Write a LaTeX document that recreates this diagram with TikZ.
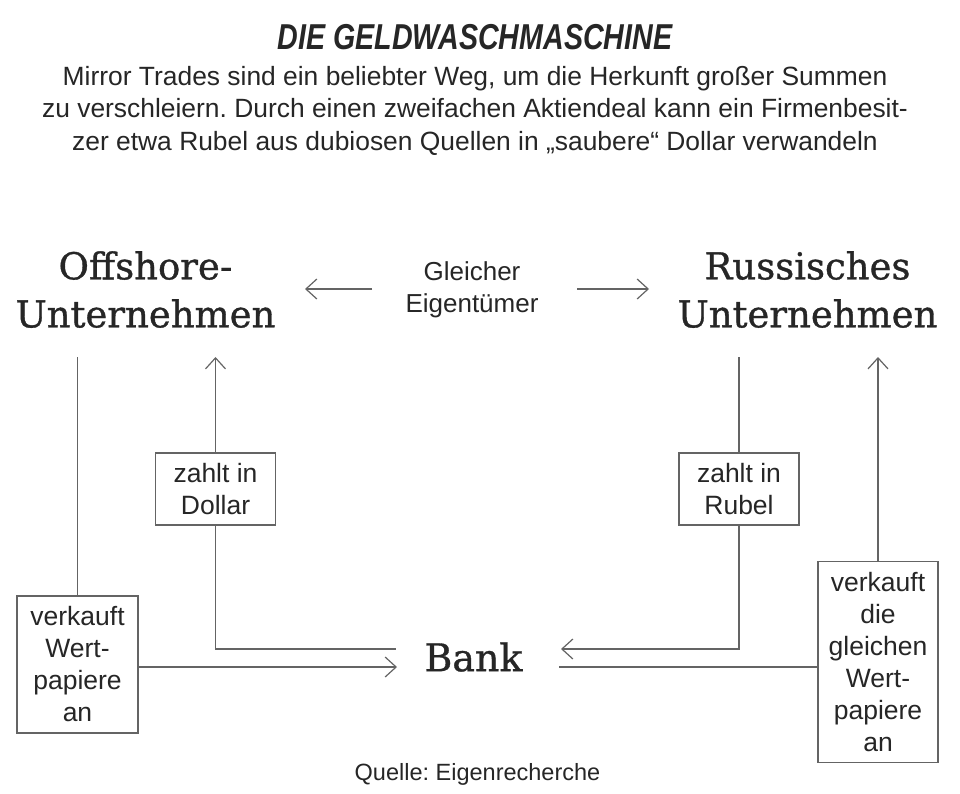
\documentclass[tikz,border=0pt]{standalone}
\usepackage{fontspec}
\usepackage{graphicx}
\setmainfont{Liberation Sans}
\newfontfamily\bigserif[FakeBold=0.9]{DejaVu Serif}
\usetikzlibrary{arrows.meta}
\definecolor{ink}{HTML}{262626}
\definecolor{wire}{HTML}{646464}
\frenchspacing
\begin{document}
\begin{tikzpicture}[x=1pt,y=-1pt,
  ln/.style={draw=wire,line width=1.2pt},
  arr/.style={ln,-{Straight Barb[length=11pt,width=20pt,line width=1.2pt]}},
  big/.style={font=\bigserif\fontsize{37}{48}\selectfont, text=ink, align=center, inner sep=0pt},
  lbl/.style={font=\fontsize{26.5}{32}\selectfont, text=ink, align=center, inner sep=0pt},
  stepbox/.style={lbl, draw=wire, line width=1.2pt},
  ]
\useasboundingbox[fill=white] (0,0) rectangle (960,793);
% title and intro
\node[anchor=base, text=ink, inner sep=0pt] (title) at (475,49)
  {\fontsize{36}{40}\selectfont\bfseries\itshape\scalebox{0.795}[1]{DIE GELDWASCHMASCHINE}};
\node[anchor=north, text=ink, align=center, inner sep=0pt,
  font=\fontsize{26.4}{32.5}\selectfont] (intro) at (475,66)
  {Mirror Trades sind ein beliebter Weg, um die Herkunft großer Summen\\
   zu verschleiern. Durch einen zweifachen Aktiendeal kann ein Firmenbesit-\\
   zer etwa Rubel aus dubiosen Quellen in „saubere“ Dollar verwandeln};
% companies
\node[big, anchor=north] (off) at (145.5,251) {Offshore-\\Unternehmen};
\node[big, anchor=north] (rus) at (807.5,251) {Russisches\\Unternehmen};
\node[lbl, anchor=north, font=\fontsize{26}{32}\selectfont] (owner) at (472,261) {Gleicher\\Eigentümer};
\node[big, font=\bigserif\fontsize{38}{48}\selectfont] (bank) at (473.5,657) {Bank};
% boxes
\node[stepbox, minimum width=120pt, minimum height=72pt] (dollar) at (215.5,489) {zahlt in\\Dollar};
\node[stepbox, minimum width=120pt, minimum height=72pt] (rubel) at (739,489) {zahlt in\\Rubel};
\node[stepbox, minimum width=121pt, minimum height=137pt] (sellL) at (77.5,664.5) {verkauft\\Wert-\\papiere\\an};
\node[stepbox, minimum width=120pt, minimum height=201pt] (sellR) at (878,662) {verkauft\\die\\gleichen\\Wert-\\papiere\\an};
\node[anchor=base, text=ink, inner sep=0pt, font=\fontsize{23.5}{28}\selectfont] (src) at (477.5,780) {Quelle: Eigenrecherche};
% connector end points
\coordinate (top) at (0,357);
\coordinate (ownL) at (372,289);
\coordinate (ownR) at (577,289);
\coordinate (offE) at (305,289);
\coordinate (rusW) at (649,289);
\coordinate (bankUL) at (396,649);
\coordinate (bankLL) at (397,667);
\coordinate (bankUR) at (561,649);
\coordinate (bankLR) at (559,667);
% connectors
\draw[arr] (ownL) -- (offE);
\draw[arr] (ownR) -- (rusW);
\draw[ln] (sellL.north) -- (sellL.north |- top);
\draw[arr] (dollar.north) -- (dollar.north |- top);
\draw[ln] (rubel.north) -- (rubel.north |- top);
\draw[arr] (sellR.north) -- (sellR.north |- top);
\draw[ln] (dollar.south) |- (bankUL);
\draw[arr] (sellL.east |- bankLL) -- (bankLL);
\draw[arr] (rubel.south) |- (bankUR);
\draw[ln] (sellR.west |- bankLR) -- (bankLR);
\end{tikzpicture}
\end{document}
